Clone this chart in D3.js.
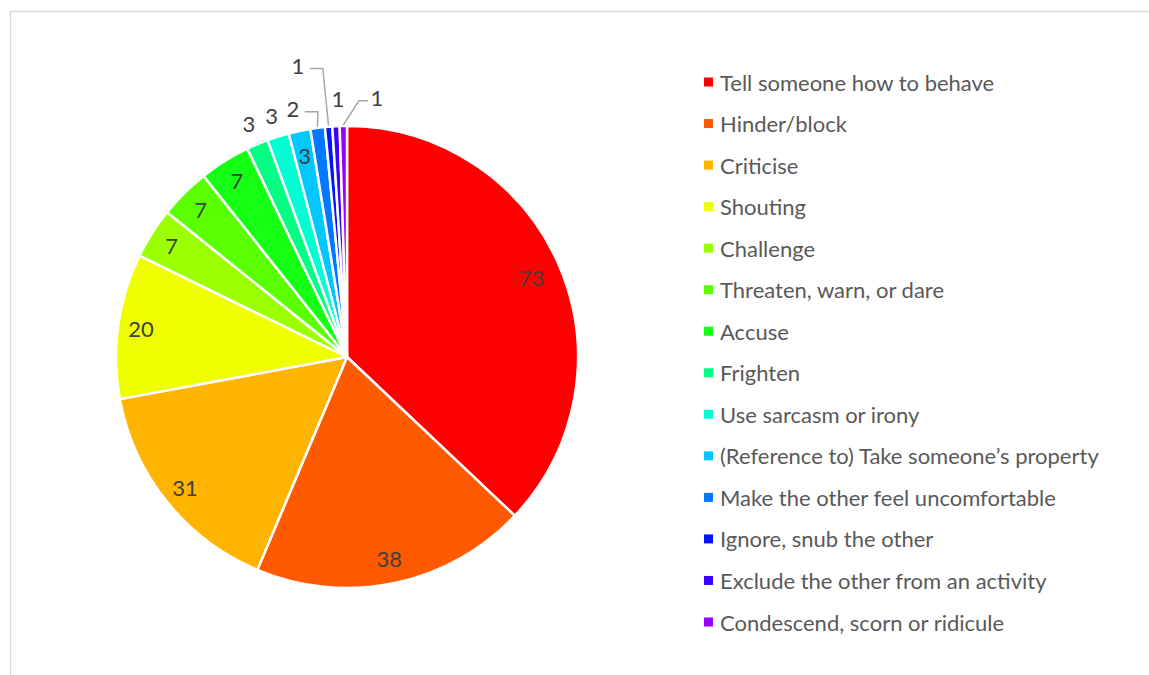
<!DOCTYPE html>
<html>
<head>
<meta charset="utf-8">
<script src="https://cdn.jsdelivr.net/npm/d3@7"></script>
<style>
  html, body { margin: 0; padding: 0; background: #fff; }
  svg { display: block; }
  text { font-family: Lato, "Open Sans", sans-serif; }
</style>
</head>
<body>
<svg id="chart" width="1149" height="675"></svg>
<script>
// ---- data ----
const categories = [
  "Tell someone how to behave",
  "Hinder/block",
  "Criticise",
  "Shouting",
  "Challenge",
  "Threaten, warn, or dare",
  "Accuse",
  "Frighten",
  "Use sarcasm or irony",
  "(Reference to) Take someone\u2019s property",
  "Make the other feel uncomfortable",
  "Ignore, snub the other",
  "Exclude the other from an activity",
  "Condescend, scorn or ridicule"
];
const values = [73, 38, 31, 20, 7, 7, 7, 3, 3, 3, 2, 1, 1, 1];
const colors = [
  "#ff0000", "#ff5a00", "#ffb400", "#f0ff00", "#9bff00", "#5aff00", "#14ff14",
  "#00ff82", "#00ffd2", "#00c8ff", "#0078ff", "#0014ff", "#3c00ff", "#9600ff"
];
// label placement (layout only): radius factor, angle shift (deg), leader line
const labelLayout = [
  {r: 0.87}, {r: 0.89}, {r: 0.90}, {r: 0.90}, {r: 0.90}, {r: 0.90}, {r: 0.90},
  {r: 1.095}, {r: 1.095}, {r: 0.89},
  {r: 1.10, da: -5, leader: true},
  {r: 1.28, da: -5, leader: true},
  {r: 1.12, da: 0.7},
  {r: 1.13, da: 7.5, leader: true}
];

// ---- layout ----
const svg = d3.select("#chart");
const cx = 347, cy = 357, R = 231;
const FS = 22;

// outer frame
svg.append("rect")
  .attr("x", 10.5).attr("y", 11.5)
  .attr("width", 1149 + 20).attr("height", 675 + 20)
  .attr("fill", "none").attr("stroke", "#d9d9d9").attr("stroke-width", 1.5);

const data = categories.map((c, i) => ({name: c, value: values[i], color: colors[i], layout: labelLayout[i]}));

const pie = d3.pie().value(d => d.value).sort(null);
const arcs = pie(data);
const arc = d3.arc().innerRadius(0).outerRadius(R);

const g = svg.append("g").attr("transform", `translate(${cx},${cy})`);

g.selectAll("path.slice")
  .data(arcs)
  .enter().append("path")
  .attr("class", "slice")
  .attr("d", arc)
  .attr("fill", d => d.data.color)
  .attr("stroke", "#ffffff")
  .attr("stroke-width", 2.5)
  .attr("stroke-linejoin", "round");

function polar(angle, rad) {
  return [rad * Math.sin(angle), -rad * Math.cos(angle)];
}

const labelG = g.append("g");
arcs.forEach(a => {
  const L = a.data.layout;
  const mid = (a.startAngle + a.endAngle) / 2;
  const ang = mid + (L.da || 0) * Math.PI / 180;
  const [lx, ly] = polar(ang, R * L.r);
  if (L.leader) {
    const [ex, ey] = polar(mid, R + 1);
    const pts = (lx < ex)
      ? [[ex, ey], [lx + 25, ly + 3], [lx + 12, ly + 3]]
      : [[ex, ey], [lx - 18, ly + 3], [lx - 9, ly + 3]];
    labelG.append("path")
      .attr("d", d3.line()(pts))
      .attr("fill", "none")
      .attr("stroke", "#a6a6a6")
      .attr("stroke-width", 1.5);
  }
  labelG.append("text")
    .attr("x", lx).attr("y", ly)
    .attr("text-anchor", "middle")
    .attr("dominant-baseline", "central")
    .attr("font-size", FS)
    .attr("fill", "#404040")
    .text(a.data.value);
});

// ---- legend ----
const legendY = d3.scalePoint().domain(categories).range([82, 622]);
const leg = svg.append("g");
const items = leg.selectAll("g.item")
  .data(data)
  .enter().append("g")
  .attr("class", "item")
  .attr("transform", d => `translate(704,${legendY(d.name)})`);
items.append("rect")
  .attr("x", 0).attr("y", -4.5)
  .attr("width", 9).attr("height", 9)
  .attr("fill", d => d.color);
items.append("text")
  .attr("x", 16).attr("y", 0)
  .attr("dominant-baseline", "central")
  .attr("font-size", FS)
  .attr("fill", "#595959")
  .text(d => d.name);
</script>
</body>
</html>
